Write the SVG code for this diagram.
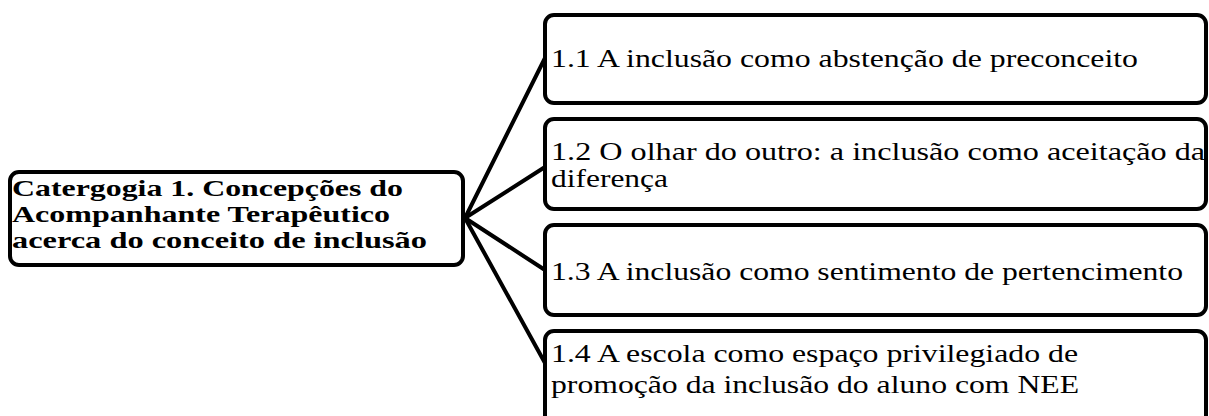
<svg xmlns="http://www.w3.org/2000/svg" width="1209" height="416" viewBox="0 0 1209 416">
<style>
.box{fill:#fff;stroke:#000;stroke-width:4}
.conn{stroke:#000;stroke-width:4;fill:none;stroke-linecap:round}
.t1{font-family:"Liberation Serif",serif;font-weight:bold;font-size:23px;fill:#000}
.t2{font-family:"Liberation Serif",serif;font-size:26px;fill:#000}
</style>
<rect width="1209" height="416" fill="#fff"/>
<g id="connectors">
<line class="conn" x1="465" y1="218" x2="545" y2="58"/>
<line class="conn" x1="465" y1="218" x2="545" y2="167"/>
<line class="conn" x1="465" y1="218" x2="545" y2="270"/>
<line class="conn" x1="465" y1="218" x2="545" y2="363"/>
</g>
<g id="root">
<rect class="box" x="10" y="172" width="453" height="93" rx="9"/>
<text class="t1" x="12" y="196" textLength="391" lengthAdjust="spacingAndGlyphs">Catergogia 1. Concepções do</text>
<text class="t1" x="12" y="222" textLength="378" lengthAdjust="spacingAndGlyphs">Acompanhante Terapêutico</text>
<text class="t1" x="12" y="248" textLength="415" lengthAdjust="spacingAndGlyphs">acerca do conceito de inclusão</text>
</g>
<g id="n11">
<rect class="box" x="545" y="15" width="661" height="88" rx="9"/>
<text class="t2" x="551" y="67" textLength="587" lengthAdjust="spacingAndGlyphs">1.1 A inclusão como abstenção de preconceito</text>
</g>
<g id="n12">
<rect class="box" x="545" y="119" width="661" height="90" rx="9"/>
<text class="t2" x="551" y="160" textLength="654" lengthAdjust="spacingAndGlyphs">1.2 O olhar do outro: a inclusão como aceitação da</text>
<text class="t2" x="551" y="187" textLength="117" lengthAdjust="spacingAndGlyphs">diferença</text>
</g>
<g id="n13">
<rect class="box" x="545" y="225" width="661" height="90" rx="9"/>
<text class="t2" x="551" y="280" textLength="632" lengthAdjust="spacingAndGlyphs">1.3 A inclusão como sentimento de pertencimento</text>
</g>
<g id="n14">
<rect class="box" x="545" y="331" width="661" height="110" rx="9"/>
<text class="t2" x="551" y="362" textLength="527" lengthAdjust="spacingAndGlyphs">1.4 A escola como espaço privilegiado de</text>
<text class="t2" x="551" y="393" textLength="528" lengthAdjust="spacingAndGlyphs">promoção da inclusão do aluno com NEE</text>
</g>
</svg>
